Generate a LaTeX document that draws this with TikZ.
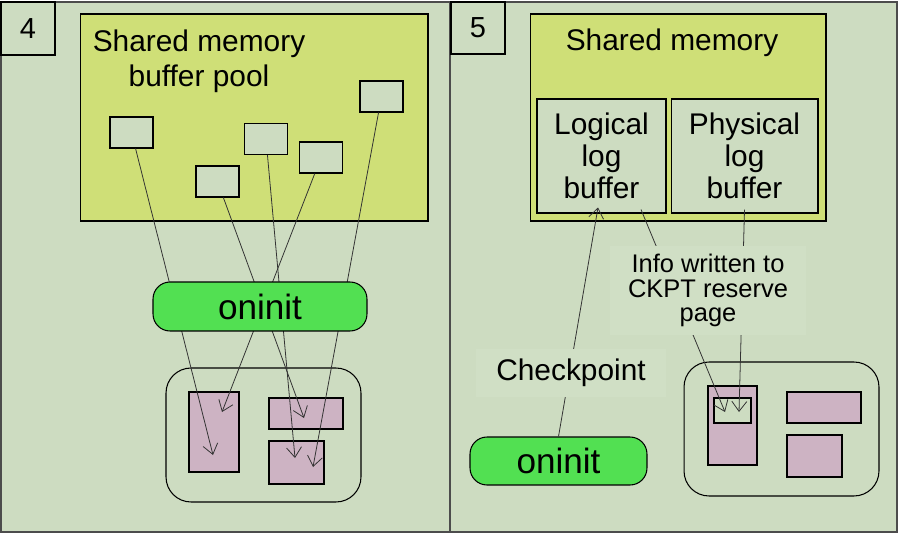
\documentclass[tikz,border=0pt]{standalone}
\usepackage{fontspec}
\setmainfont{Liberation Sans}
\usepackage{xcolor}
\usepackage{tikz}
\usetikzlibrary{arrows.meta, positioning}
\definecolor{paneBg}{HTML}{CDDCC1}
\definecolor{memYellow}{HTML}{CFDF77}
\definecolor{procGreen}{HTML}{52E052}
\definecolor{pagePink}{HTML}{CDB3C3}
\definecolor{labelBg}{HTML}{D0DFC5}

\begin{document}
\begin{tikzpicture}[
    x=0.02cm, y=-0.02cm,
    panel/.style={rectangle, draw=black!70, line width=0.7pt, fill=paneBg, inner sep=0pt},
    numbox/.style={rectangle, draw=black, line width=0.6pt, fill=paneBg, inner sep=0pt, font=\fontsize{16.5}{18}\selectfont},
    membox/.style={rectangle, draw, line width=0.6pt, fill=memYellow, inner sep=0pt},
    title/.style={align=center, inner sep=0pt, font=\fontsize{17}{19.8}\selectfont},
    bufbox/.style={rectangle, draw, line width=0.6pt, fill=paneBg, inner sep=0pt, minimum width=0.86cm, minimum height=0.62cm},
    logbox/.style={rectangle, draw, line width=0.6pt, fill=paneBg, inner sep=0pt, align=center, minimum height=2.28cm, font=\fontsize{17}{18.2}\selectfont},
    procbox/.style={rectangle, rounded corners=0.34cm, draw, line width=0.6pt, fill=procGreen, inner sep=0pt, font=\fontsize{20}{22}\selectfont},
    diskbox/.style={rectangle, rounded corners=0.5cm, draw, line width=0.6pt, inner sep=0pt, minimum width=3.9cm, minimum height=2.68cm},
    pagebox/.style={rectangle, draw, line width=0.6pt, fill=pagePink, inner sep=0pt},
    lblbox/.style={rectangle, fill=labelBg, inner sep=0pt, align=center},
    arrow/.style={-{Straight Barb[length=0.2cm, width=0.3cm]}, line width=0.45pt, draw=black!80},
]
    \useasboundingbox (0,0) rectangle (898,533);

    % Panels
    \node[panel, minimum width=8.98cm, minimum height=10.6cm] (paneL) at (225.5,267) {};
    \node[panel, minimum width=8.94cm, minimum height=10.6cm] (paneR) at (673.5,267) {};
    \node[numbox, minimum width=1.08cm, minimum height=1.06cm] (num4) at (28,28.5) {4};
    \node[numbox, minimum width=1.08cm, minimum height=1.04cm] (num5) at (478,28) {5};

    % Step 4: buffer pool
    \node[membox, minimum width=6.96cm, minimum height=4.14cm] (memL) at (254,117.5) {};
    \node[title] (memtitleL) at (199,61) {Shared memory\\buffer pool};
    \node[bufbox] (b1) at (131.5,132.5) {};
    \node[bufbox] (b2) at (217.5,181.5) {};
    \node[bufbox] (b3) at (266,139) {};
    \node[bufbox] (b4) at (321,157.5) {};
    \node[bufbox] (b5) at (381.5,96.5) {};

    \node[diskbox] (diskL) at (263.5,435) {};
    \node[pagebox, minimum width=1.0cm, minimum height=1.6cm] (p1) at (214,432) {};
    \node[pagebox, minimum width=1.48cm, minimum height=0.62cm] (p2) at (306,413.5) {};
    \node[pagebox, minimum width=1.1cm, minimum height=0.86cm] (p3) at (296.5,462.5) {};
    \coordinate (t1) at (213,455);
    \coordinate (t2) at (304,418);
    \coordinate (t3) at (295,458);
    \coordinate (t4) at (222,412);
    \coordinate (t5) at (313,467);

    \draw[arrow] (b1) -- (t1);
    \draw[arrow] (b2) -- (t2);
    \draw[arrow] (b3) -- (t3);
    \draw[arrow] (b4) -- (t4);
    \draw[arrow] (b5) -- (t5);

    \node[procbox, minimum width=4.28cm, minimum height=0.98cm] (oninitL) at (260,306.5) {oninit};

    % Step 5: checkpoint
    \node[membox, minimum width=5.92cm, minimum height=4.14cm] (memR) at (678,117.5) {};
    \node[title] (memtitleR) at (672,43) {Shared memory};
    \node[logbox, minimum width=2.58cm] (logbuf) at (601.5,156) {Logical\\log\\buffer};
    \node[logbox, minimum width=2.94cm] (physbuf) at (744.5,156) {Physical\\log\\buffer};

    \node[diskbox] (diskR) at (781.5,429) {};
    \node[pagebox, minimum width=0.98cm, minimum height=1.58cm] (q1) at (732.5,425.5) {};
    \node[rectangle, draw, line width=0.6pt, fill=paneBg, inner sep=0pt, minimum width=0.74cm, minimum height=0.5cm] (resv) at (732.5,410.5) {};
    \node[pagebox, minimum width=1.48cm, minimum height=0.62cm] (q2) at (824,407.5) {};
    \node[pagebox, minimum width=1.1cm, minimum height=0.84cm] (q3) at (814.5,456) {};
    \coordinate (r1) at (725,412);
    \coordinate (r2) at (739,412);

    \node[procbox, minimum width=3.54cm, minimum height=0.96cm] (oninitR) at (558.5,461) {oninit};

    \draw[arrow] (oninitR.north) -- ([xshift=-0.07cm, yshift=0.12cm]logbuf.south);
    \draw[arrow] ([xshift=0.79cm, yshift=0.08cm]logbuf.south) -- (r1);
    \draw[arrow] ([yshift=0.08cm]physbuf.south) -- (r2);

    \node[lblbox, minimum width=3.8cm, minimum height=0.96cm, font=\fontsize{17}{19}\selectfont] (ckpt) at (571,373) {Checkpoint};
    \node[lblbox, minimum width=3.92cm, minimum height=1.78cm, font=\fontsize{14.5}{13.8}\selectfont] (info) at (708,290.5) {Info written to\\CKPT reserve\\page};
\end{tikzpicture}
\end{document}
